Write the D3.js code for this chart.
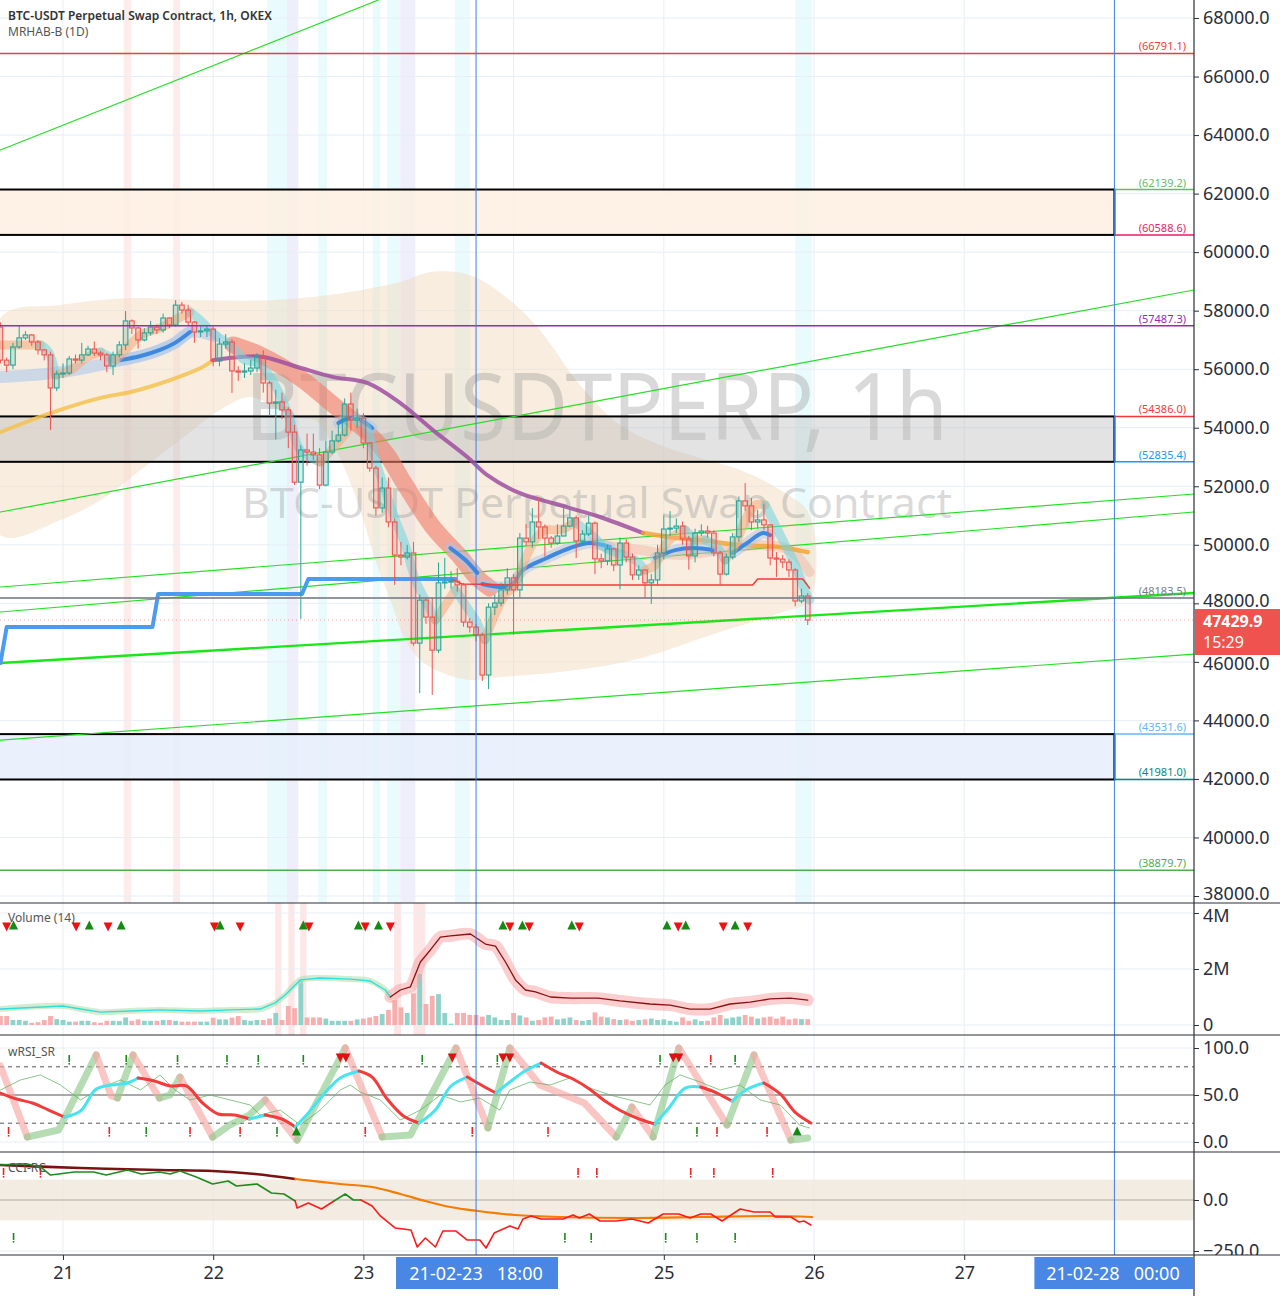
<!DOCTYPE html>
<html><head><meta charset="utf-8">
<script src="https://cdn.jsdelivr.net/npm/d3@7"></script>
<style>body{margin:0;background:#fff;}svg{display:block;font-family:"Noto Sans",sans-serif;}</style>
</head><body>
<svg id="c" width="1280" height="1296"></svg>
<script>
// ---------------- DATA ----------------
const startTime = "2021-02-20T14:00:00Z"; // first hourly candle
const candleOpen = [57440,56310,56140,56760,57070,57170,56930,56660,56490,55360,55840,55870,56350,56310,56490,56690,56550,56490,56110,56490,56830,57650,57410,57000,57240,57440,57340,57750,57510,58190,58020,57610,57270,57310,57370,56280,56860,56930,55940,55900,55940,56040,56450,55530,54840,54880,54610,53850,52140,53240,53170,53070,52040,53170,53550,53750,54810,54260,54330,53480,52620,51260,51940,50780,49650,49580,49720,46640,48110,47530,46400,48700,48730,48760,48630,47360,47190,46920,45550,47870,48010,48460,48870,48460,50230,50100,50780,50610,50230,50060,50300,50640,50920,50130,50370,50740,49520,49450,49860,49310,50060,49580,48970,49140,48700,48800,49720,50540,50570,50640,50200,49620,50400,50470,50400,49720,49000,49580,50270,51500,51330,50780,50850,50680,49550,49510,49410,49140,48080,48250];
const candleHigh = [57600,56400,56900,57470,57300,57200,57000,56700,56600,55950,56200,56450,56500,56900,56800,56950,56620,56560,56600,56960,57990,57700,57460,57400,57650,57520,57900,57770,58360,58300,58200,57650,57450,57500,57450,57060,57200,57020,56100,56200,56320,56550,56650,55600,55300,55200,54700,54100,53400,53800,53800,53300,53550,53900,54100,55000,55200,54650,54500,53500,52700,52300,52300,50900,50100,50000,50100,48300,48200,48200,49400,49550,49100,49200,48700,47500,47300,47000,48000,48300,48700,49200,49000,50400,50700,51250,51600,50700,50300,50700,51400,51200,51000,50500,51000,50800,49700,50000,49900,50250,50200,49700,49300,49150,49000,50000,51000,51150,50900,50800,50300,50550,50700,50650,50500,49800,49700,50400,51650,52110,51600,51200,51400,50700,49750,49650,49500,49200,48500,48350];
const candleLow = [56200,55900,56000,56700,57000,56800,56500,56300,53920,55250,55700,55800,56200,56200,56450,56450,56300,55900,55800,56400,56650,57200,56700,56950,57150,57200,57250,57400,57450,57900,57500,56900,57100,57100,56100,56100,56700,55190,55600,55700,55800,55900,55200,54400,53600,54300,53300,52050,47470,52700,52900,51900,52000,53100,53500,53700,53900,54000,53300,52500,51000,51100,50600,48630,49300,49500,46550,44930,47300,44870,46300,48500,48500,48400,47200,47000,46700,45350,45070,47600,47900,48300,46920,48200,49950,49900,50200,49600,49900,50000,50300,50600,49550,50000,50300,49000,49200,49300,49100,48480,49400,48800,48800,48180,47980,48600,49500,50300,50400,50000,49150,49400,50300,50250,49600,48600,48950,49500,50100,51150,50500,50550,50500,49300,48900,49200,48900,47900,48000,47260];
const candleClose = [56310,56140,56760,57070,57170,56930,56660,56490,55360,55840,55870,56350,56310,56490,56690,56550,56490,56110,56490,56830,57650,57410,57000,57240,57440,57340,57750,57510,58190,58020,57610,57270,57310,57370,56280,56860,56930,55940,55900,55940,56040,56450,55530,54840,54880,54610,53850,52140,53240,53170,53070,52040,53170,53550,53750,54810,54260,54330,53480,52620,51260,51940,50780,49650,49580,49720,46640,48110,47530,46400,48700,48730,48760,48630,47360,47190,46920,45550,47870,48010,48460,48870,48460,50230,50100,50780,50610,50230,50060,50300,50640,50920,50130,50370,50740,49520,49450,49860,49310,50060,49580,48970,49140,48700,48800,49720,50540,50570,50640,50200,49620,50400,50470,50400,49720,49000,49580,50270,51500,51330,50780,50850,50680,49550,49510,49410,49140,48080,48250,47430];
const volumeM = [0.32,0.32,0.18,0.18,0.15,0.08,0.10,0.18,0.32,0.21,0.18,0.12,0.12,0.15,0.15,0.10,0.08,0.15,0.15,0.14,0.27,0.15,0.20,0.15,0.15,0.15,0.18,0.18,0.15,0.12,0.12,0.12,0.12,0.12,0.26,0.20,0.20,0.26,0.32,0.18,0.15,0.18,0.18,0.23,0.43,0.18,0.68,0.60,1.61,0.27,0.27,0.27,0.23,0.15,0.15,0.15,0.15,0.20,0.23,0.27,0.32,0.39,0.54,0.89,0.63,0.43,1.13,1.82,0.75,1.04,1.10,0.43,0.05,0.43,0.43,0.36,0.36,0.30,0.36,0.27,0.18,0.18,0.43,0.34,0.27,0.15,0.18,0.27,0.30,0.20,0.23,0.27,0.18,0.15,0.18,0.45,0.30,0.27,0.21,0.18,0.20,0.15,0.18,0.20,0.23,0.18,0.20,0.15,0.12,0.27,0.15,0.20,0.14,0.15,0.27,0.36,0.23,0.27,0.30,0.36,0.30,0.23,0.27,0.30,0.23,0.30,0.20,0.23,0.21,0.21];

// overlays: [hours since startTime, value]
const slowMaRise = [[0,53850],[8,54500],[16,55020],[20.8,55220],[27.1,55630],[32,56040],[34,56310]];
const slowMaFall = [[34,56310],[38.3,56420],[42,56420],[48,56040],[53.2,55730],[58.6,55530],[63.9,54840],[69.1,53920],[74.6,53000],[77.8,52380],[82.6,51800],[90.5,51290],[95.8,50950],[102.7,50400]];
const slowMaTail = [[102.7,50400],[108.1,50230],[111.8,50160],[118.2,49990],[124.6,49920],[129,49750]];
const redBand = [[37.2,56830],[41.5,56490],[47.9,55700],[53.2,54780],[58.6,53850],[61.8,53070],[63.9,52320],[69.1,50610],[73.5,49580],[76.2,48870],[78.2,48520]];
const redBandFaint = [[95.8,49990],[102.2,49820],[108.6,49650],[115,49820],[121.4,49990],[126.1,49820],[129.3,49070]];
const blueMaBand = [[0,55730],[9.6,55900],[19.2,56300],[22.4,56450],[25.5,56660],[27.9,56900],[30.3,57270],[34.3,57130]];
const blueMaSegments = [
  [[19.2,56310],[22.4,56450],[25.5,56660],[27.9,56900],[30.3,57270]],
  [[54,54160],[55.9,54330],[57.5,54260],[59.4,53990]],
  [[71.9,49890],[74.3,49480],[76.2,49040]],
  [[77,48660],[81.4,48590],[83.5,49140],[87.3,49550],[91,49890],[94.2,50060],[97.4,49920]],
  [[104.6,49550],[107.8,49820],[110.7,49890],[113.9,49820]],
  [[117,49720],[119.3,50060],[121.8,50400],[123,50330]]
];
const fastBand = [[0,56830],[3.2,56830],[6.4,56830],[7.7,56590],[8.8,55800],[11.2,55970],[13.6,56380],[16,56590],[18.4,56310],[20,56660],[22.4,57170],[25.5,57410],[27.9,57680],[30.3,57950],[31.9,57680],[34.3,57170],[36.7,56830],[39.1,56310],[40.7,56250],[42.3,55970],[44.7,55120],[46.3,54260],[47.9,53240],[51.1,52830],[54.3,53580],[56.7,54260],[58.3,54090],[59.9,52900],[61.5,51870],[63.1,50850],[64.7,49990],[66.3,48800],[67.9,48110],[69.5,47430],[71.1,47940],[72.7,48460],[74.3,47940],[75.9,47430],[77.4,46750],[79,47600],[80.6,48280],[82.2,48630],[83.8,49480],[85.4,50160],[87,50510],[88.6,50510],[90.2,50570],[91.8,50780],[93.4,50510],[95,50230],[96.6,49890],[98.2,49750],[99.8,49620],[101.4,49480],[103,49140],[104.6,49310],[106.2,49990],[107.8,50330],[109.4,50510],[111,50160],[112.6,50160],[114.2,49990],[115.8,49480],[117.4,49990],[119,50850],[120.6,51360],[122.2,51360],[123.8,50680],[125.4,49990],[127,49310],[128.5,48460],[129.3,48110]];
const cloudUpper = [[0,57750],[9.6,58190],[20.8,58430],[31.9,58360],[43.1,58360],[52.7,58540],[63.9,58980],[68.7,59320],[75,59220],[81.4,58360],[86.2,57340],[92.6,55460],[99,54090],[105.4,53410],[111.8,52970],[118.2,52560],[124.6,51870],[129.3,51020]];
const cloudLower = [[129.3,48110],[124.6,47670],[114.5,46990],[101.1,46060],[89.4,45650],[79.8,45480],[75,45380],[70.3,45650],[67.1,46060],[64.7,46750],[62.3,48110],[59.9,49480],[57.5,51190],[55.1,52560],[52.7,53580],[50.3,54260],[47.9,54330],[44.7,54610],[39.9,55050],[35.1,54610],[28.7,53580],[22.4,52560],[16,51530],[9.6,50850],[0,50330]];
const dailyStep = [[0,45960],[1,47190],[24.3,47190],[25.2,48320],[48.2,48320],[49.2,48830],[72.7,48830]];
const stopLine = [[72.3,48800],[73.8,48660],[81.9,48630],[120.2,48630],[121,48830],[128.2,48830],[129.3,48520]];
const trendLines = [[[0,63490],[60.4,68615]],[[0,51120],[190.7,58706]],[[0,48558],[190.7,51735]],[[0,47703],[190.7,51120]],[[0,43324],[190.7,46262]]];
const mainTrend = [[0,45960],[190.7,48352]];
const levelValues = [66791.1,62139.2,60588.6,57487.3,54386.0,52835.4,48183.5,43531.6,41981.0,38879.7];
const fullWidthLevels = [66791.1,57487.3,48183.5,38879.7];
const zones = [[62139.2,60588.6],[54386.0,52835.4],[43531.6,41981.0]];
const zoneEnd = "2021-02-28T00:00:00Z";
const lastPrice = 47429.9, lastCountdown = "15:29";
const priceTicks = [38000,40000,42000,44000,46000,48000,50000,52000,54000,56000,58000,60000,62000,64000,66000,68000];
const gridDays = ["2021-02-21","2021-02-22","2021-02-23","2021-02-24","2021-02-25","2021-02-26","2021-02-27"];
const dayLabels = ["2021-02-21","2021-02-22","2021-02-23","2021-02-25","2021-02-26","2021-02-27"];
const markedTimes = [["2021-02-23T18:00:00Z","21-02-23   18:00"],["2021-02-28T00:00:00Z","21-02-28   00:00"]];
const pinkStripes = [[19.7,20.9],[27.6,28.7]];
const cyanStripes = [[42.6,45.8],[50.8,52.2],[59.5,60.7],[61.8,63.9],[72.6,75],[127,129.7]];
const lavenderStripes = [[45.8,47.6],[63.9,66.3]];
const volStripes = [[43.9,44.9],[46,47],[47.9,48.9],[62.9,64],[66,67.9]];
const volMaCalm = [[0,0.57],[10,0.68],[12.8,0.57],[16,0.46],[20.8,0.5],[25.5,0.54],[31.9,0.5],[36.7,0.54],[41.5,0.57],[43.9,0.79],[45.5,1.07],[47.9,1.61],[51.1,1.68],[55.9,1.64],[59.1,1.57],[61.5,1.25],[62.3,1.0]];
const volMaHot = [[62.3,1.0],[63.9,1.25],[65.5,1.36],[67.1,2.25],[68.7,2.68],[70.3,3.14],[71.9,3.18],[75.1,3.25],[77.5,2.89],[79.1,2.82],[80.7,2.25],[82.3,1.61],[83.9,1.25],[85.5,1.18],[87.9,1.0],[91.1,0.96],[95.5,0.96],[99,0.86],[103.8,0.75],[107,0.71],[110.2,0.57],[113.4,0.57],[116.6,0.75],[119.8,0.82],[123,0.93],[126.2,0.96],[129,0.89]];
const volUpSignals = [2.1,14.2,19.3,35.1,48.4,57.2,60.4,80.3,83.4,91.3,106.5,109.5,117.4];
const volDownSignals = [1,12.1,17.2,34.2,38.3,49.3,58.3,62.3,81.4,84.5,92.5,108.3,115.5,119.4];
const rsiSmooth = [[0,52.1],[2.6,45.7],[5.1,41.5],[7.7,34],[10.2,26.6],[12.8,33],[15.3,56.4],[17.7,60.6],[20.3,62.8],[22,68.1],[24.6,64.9],[27.1,59.6],[29.7,59.6],[32.3,41.5],[34.8,29.8],[37.4,28.7],[39.8,24.5],[42.3,28.7],[44.9,24.5],[47.1,16],[49.2,30.9],[51.7,51.1],[54.3,68.1],[57.3,75.5],[59.4,69.1],[61.8,45.7],[64.4,27.7],[66.9,20.2],[69.5,34],[72,59.6],[74.6,69.1],[77.1,59.6],[79.2,52.1],[81.4,63.8],[83.8,75.5],[86.4,84],[88.9,74.5],[91.5,67],[94.1,56.4],[96.6,43.6],[99.2,33],[101.7,25.5],[104.6,19.1],[106.8,36.2],[109.4,57.4],[111.9,58.5],[114.5,52.1],[116.9,43.6],[119.4,56.4],[122,62.8],[124.6,51.1],[127.1,30.9],[129.5,20.2]];
const rsiFast = [[0,80.9],[4.3,5.3],[9.3,12.8],[15.3,92.6],[17.7,48.9],[18.7,46.8],[21.2,92.6],[25.4,46.8],[27.1,50],[28.7,69.1],[33.9,5.3],[36.7,18.1],[39.8,28.7],[42.3,44.7],[47.4,2.1],[55.1,100],[61,5.3],[65.5,7.4],[66.9,25.5],[72.8,100],[77.9,14.9],[81.4,100],[86.2,60.6],[93.3,41.5],[98.4,5.3],[100.9,37.2],[104.3,5.3],[108.4,100],[116.1,18.1],[120.4,92.6],[126.3,2.1],[129,4.3]];
const rsiRaw = [[0,55.3],[3.2,66],[6.4,71.3],[9.6,60.6],[12.8,44.7],[16,57.4],[19.2,66],[22.4,55.3],[25.5,71.3],[27.9,55.3],[30.3,44.7],[33.5,50],[36.7,44.7],[39.9,39.4],[41.5,28.7],[44.7,34],[47.9,18.1],[51.1,34],[54.3,55.3],[55.9,60.6],[57.5,53.2],[60.7,44.7],[63.9,23.4],[67.1,34],[70.3,50],[73.5,42.6],[76.6,46.8],[79.8,34],[81.4,55.3],[84.6,63.8],[87.8,60.6],[91,68.1],[94.2,57.4],[97.4,50],[100.6,44.7],[103.8,39.4],[106.2,60.6],[108.6,71.3],[111.8,63.8],[115,55.3],[118.2,60.6],[121.4,44.7],[124.6,39.4],[127.7,18.1],[129.3,14.9]];
const rsiLevels = [80,50,20];
const rsiTopBull = [11,20.1,28.3,36.2,41.2,48.4,67.4,79.4,105.4,117.4];
const rsiTopBear = [113.5];
const rsiTopBearArrows = [54.3,55.2,72.2,80.3,81.4,107.5,108.4];
const rsiBottomBear = [1.3,17.4,30.3,38.3,58.3,75.4,87.5,114.5,122.5];
const rsiBottomBull = [23.3,44.2,111.3];
const rsiBottomBullArrows = [47.3,127.3];
const cciSlowUp = [[0,171.6],[12.8,156.9],[25.4,147.1],[33.9,142.2],[40.7,127.5],[47.1,102.9]];
const cciSlowDown = [[47.1,102.9],[54.3,78.4],[59.4,63.7],[63.9,29.4],[67.9,-4.9],[71.9,-34.3],[76.3,-53.9],[82.2,-73.5],[89.4,-83.3],[101.7,-88.2],[111.8,-83.3],[123,-78.4],[129.7,-83.3]];
const cciFast = [[0,171.6],[2.6,176.5],[4.3,176.5],[6.4,161.8],[8,122.5],[9.3,127.5],[11.8,137.3],[14.9,137.3],[16.9,122.5],[20.3,147.1],[22.5,127.5],[25.4,137.3],[27.1,127.5],[28.7,142.2],[31.3,112.7],[33.9,78.4],[36.4,93.1],[37.7,68.6],[41,78.4],[43.3,34.3],[45.3,29.4],[47.1,-4.9],[47.4,-39.2],[49.2,-14.7],[51.3,-44.1],[53.3,-4.9],[55.1,29.4],[56.4,0],[57.6,0],[59.4,-29.4],[60.7,-78.4],[63.1,-137.3],[65.6,-147.1],[66.6,-230.4],[67.9,-186.3],[69.5,-230.4],[70.7,-152],[72.8,-152],[74.6,-196.1],[76.6,-196.1],[77.6,-235.3],[78.9,-161.8],[81.4,-127.5],[82.7,-142.2],[83.5,-93.1],[84.8,-78.4],[86.4,-93.1],[89.9,-93.1],[91.5,-73.5],[92.5,-88.2],[94.1,-68.6],[95.8,-102.9],[98.4,-102.9],[100.9,-93.1],[103.5,-112.7],[105.9,-68.6],[108.4,-68.6],[110.2,-88.2],[111.9,-68.6],[113.5,-68.6],[115.3,-102.9],[118.2,-44.1],[120.4,-58.8],[123,-58.8],[123.8,-83.3],[126.3,-83.3],[127.6,-107.8],[128.4,-102.9],[129.5,-122.5]];
const cciBullSpans = [[0,47.1],[53.3,57.6]];
const cciBandLimits = [100,-100];
const cciTopBear = [0.5,6.4,92.3,95.3,110.3,114,123.4];
const cciBottomBull = [2.1,90.2,94.4,106.3,111.3,117.4];

// ---------------- SCALES ----------------
const T0 = Date.parse(startTime);
const tAt = h => new Date(T0 + h*3600e3);
const x = d3.scaleUtc().domain([new Date(Date.UTC(2021,1,21)), new Date(Date.UTC(2021,1,26))]).range([63,814]);
const X = h => x(tAt(h));
const yP = d3.scaleLinear().domain([38000,68000]).range([896,18]);
const yV = d3.scaleLinear().domain([0,4]).range([1025,913]);
const yR = d3.scaleLinear().domain([0,100]).range([1142,1048]);
const yC = d3.scaleLinear().domain([-250,0]).range([1251,1200]);
const AX = 1194;

const svg = d3.select("#c");
const defs = svg.append("defs");
function mkClip(id,x0,y0,w,h){defs.append("clipPath").attr("id",id).append("rect").attr("x",x0).attr("y",y0).attr("width",w).attr("height",h);}
mkClip("cMain",0,0,AX,903);mkClip("cVol",0,903,AX,132);mkClip("cRsi",0,1035,AX,117);mkClip("cCci",0,1152,AX,103);
mkClip("aMain",AX,0,86,903);mkClip("aCci",AX,1152,86,103);

const gMain = svg.append("g").attr("clip-path","url(#cMain)");
const gVol = svg.append("g").attr("clip-path","url(#cVol)");
const gRsi = svg.append("g").attr("clip-path","url(#cRsi)");
const gCci = svg.append("g").attr("clip-path","url(#cCci)");

function runs(pts, colorFn){const out=[];for(let i=1;i<pts.length;i++){const c=colorFn(pts[i-1],pts[i]);if(out.length&&out[out.length-1].color===c)out[out.length-1].pts.push(pts[i]);else out.push({color:c,pts:[pts[i-1],pts[i]]});}return out;}
function drawLine(g,pts,ys,color,w,op,curve){g.append("path").attr("d",d3.line().x(d=>X(d[0])).y(d=>ys(d[1])).curve(curve||d3.curveLinear)(pts)).attr("fill","none").attr("stroke",color).attr("stroke-width",w).attr("stroke-opacity",op==null?1:op).attr("stroke-linejoin","round").attr("stroke-linecap","round");}

// ---------------- stripes & grid ----------------
const gridDates = gridDays.map(d=>new Date(d+"T00:00:00Z"));
const labelDates = dayLabels.map(d=>new Date(d+"T00:00:00Z"));
function stripes(g,list,color,y0,y1){list.forEach(s=>g.append("rect").attr("x",X(s[0])).attr("y",y0).attr("width",X(s[1])-X(s[0])).attr("height",y1-y0).attr("fill",color));}
stripes(gMain,pinkStripes,"#fdecec",0,903);
stripes(gMain,cyanStripes,"#e9fbfd",0,903);
stripes(gMain,lavenderStripes,"#efeffc",0,903);
stripes(gVol,volStripes,"#fde6e6",903,1035);

const gridC="#e7eef5";
[gMain,gVol,gRsi,gCci].forEach((g,k)=>{const yr=[[0,903],[903,1035],[1035,1152],[1152,1255]][k];gridDates.forEach(d=>g.append("line").attr("x1",x(d)).attr("x2",x(d)).attr("y1",yr[0]).attr("y2",yr[1]).attr("stroke",gridC));});
priceTicks.forEach(p=>gMain.append("line").attr("x1",0).attr("x2",AX).attr("y1",yP(p)).attr("y2",yP(p)).attr("stroke",gridC));
[0,2,4].forEach(v=>gVol.append("line").attr("x1",0).attr("x2",AX).attr("y1",yV(v)).attr("y2",yV(v)).attr("stroke",gridC));
[0,100].forEach(v=>gRsi.append("line").attr("x1",0).attr("x2",AX).attr("y1",yR(v)).attr("y2",yR(v)).attr("stroke",gridC));
gCci.append("line").attr("x1",0).attr("x2",AX).attr("y1",yC(-250)).attr("y2",yC(-250)).attr("stroke",gridC);

// ---------------- main overlays ----------------
const cloudPts = cloudUpper.concat(cloudLower);
gMain.append("path").attr("d",d3.line().x(d=>X(d[0])).y(d=>yP(d[1])).curve(d3.curveCatmullRomClosed)(cloudPts)).attr("fill","#f2dcc0").attr("fill-opacity",0.5);

// watermark
gMain.append("text").attr("x",245).attr("y",440).attr("textLength",703).attr("lengthAdjust","spacingAndGlyphs").attr("font-size",94).attr("fill","#8a8a8a").attr("fill-opacity",0.32).text("BTCUSDTPERP, 1h");
gMain.append("text").attr("x",242).attr("y",518).attr("textLength",710).attr("lengthAdjust","spacingAndGlyphs").attr("font-size",42).attr("fill","#8a8a8a").attr("fill-opacity",0.32).text("BTC-USDT Perpetual Swap Contract");

// zones
const zEnd = x(new Date(zoneEnd));
const zoneFill = ["#fdf0e1","#bdbdbd","#e6effc"], zoneOp=[0.85,0.42,0.85];
zones.forEach((z,k)=>{gMain.append("rect").attr("x",-5).attr("y",yP(z[0])).attr("width",zEnd+5).attr("height",yP(z[1])-yP(z[0])).attr("fill",zoneFill[k]).attr("fill-opacity",zoneOp[k]).attr("stroke","#000").attr("stroke-width",2);});

// levels
const levelColors = ["#f23a3a","#66bb6a","#e91e63","#9c27b0","#f23a3a","#2196f3","#787b86","#64b5f6","#00897b","#4caf50"];
levelValues.forEach((v,k)=>{const full = fullWidthLevels.includes(v);
  svg.append("line").attr("x1",full?0:zEnd).attr("x2",AX).attr("y1",yP(v)).attr("y2",yP(v)).attr("stroke",levelColors[k]).attr("stroke-width",v===48183.5?2:1.5).attr("stroke-opacity",v===48183.5?0.8:1);
  svg.append("text").attr("x",1186).attr("y",yP(v)-3).attr("text-anchor","end").attr("font-size",11).attr("fill",levelColors[k]).text("("+v.toFixed(1)+")");
});

// trend lines
trendLines.forEach(t=>drawLine(gMain,t,yP,"#22e022",1.2,1));
drawLine(gMain,mainTrend,yP,"#18e818",2.4,1);

// red band
drawLine(gMain,redBand,yP,"#f07a68",17,0.6,d3.curveCatmullRom);
drawLine(gMain,redBandFaint,yP,"#f4a090",10,0.35,d3.curveCatmullRom);
// slow MA
drawLine(gMain,slowMaRise,yP,"#f5c250",4,0.85,d3.curveCatmullRom);
drawLine(gMain,slowMaFall,yP,"#9d4f9f",4,0.85,d3.curveCatmullRom);
drawLine(gMain,slowMaTail,yP,"#f5a030",4.5,0.8,d3.curveCatmullRom);
// blue MA
drawLine(gMain,blueMaBand,yP,"#a9c6ec",12,0.55,d3.curveCatmullRom);
blueMaSegments.forEach(s=>{drawLine(gMain,s,yP,"#a9c6ec",11,0.5,d3.curveCatmullRom);drawLine(gMain,s,yP,"#3f88e0",4,1,d3.curveCatmullRom);});
// fast band
runs(fastBand,(a,b)=>b[1]<a[1]?"#6fd3e0":"#f5a878").forEach(r=>drawLine(gMain,r.pts,yP,r.color,9,0.55,d3.curveCatmullRom));
// daily step + stop line
drawLine(gMain,dailyStep,yP,"#4a9cf0",4,1);
drawLine(gMain,stopLine,yP,"#f23a3a",1.5,1);

// candles
const cw=2.3;
candleClose.forEach((c,i)=>{const o=candleOpen[i],up=c>=o,col=up?"#26a69a":"#ef5350",cx=X(i);
  gMain.append("line").attr("x1",cx).attr("x2",cx).attr("y1",yP(candleHigh[i])).attr("y2",yP(Math.max(o,c))).attr("stroke",col);
  gMain.append("line").attr("x1",cx).attr("x2",cx).attr("y1",yP(Math.min(o,c))).attr("y2",yP(candleLow[i])).attr("stroke",col);
  const y0=yP(Math.max(o,c)), h=Math.max(1,yP(Math.min(o,c))-y0);
  gMain.append("rect").attr("x",cx-cw).attr("y",y0).attr("width",cw*2).attr("height",h).attr("fill",col).attr("fill-opacity",0.18).attr("stroke",col).attr("stroke-width",1.1);
});
// current price dotted
gMain.append("line").attr("x1",0).attr("x2",AX).attr("y1",yP(lastPrice)).attr("y2",yP(lastPrice)).attr("stroke","#ef5350").attr("stroke-opacity",0.5).attr("stroke-dasharray","1,3");

// titles
svg.append("text").attr("x",8).attr("y",20).attr("font-size",12).attr("fill","#333").attr("font-weight",600).text("BTC-USDT Perpetual Swap Contract, 1h, OKEX");
svg.append("text").attr("x",8).attr("y",36).attr("font-size",12).attr("fill","#555").text("MRHAB-B (1D)");

// ---------------- volume ----------------
volumeM.forEach((v,i)=>{const up=candleClose[i]>=candleOpen[i];gVol.append("rect").attr("x",X(i)-2.4).attr("y",yV(v)).attr("width",4.8).attr("height",yV(0)-yV(v)).attr("fill",up?"#8fd2c9":"#f7aeae");});
drawLine(gVol,volMaCalm,yV,"#b6dfb0",6,0.6,d3.curveCatmullRom);
drawLine(gVol,volMaHot,yV,"#f7a0a0",12,0.5,d3.curveCatmullRom);
drawLine(gVol,volMaCalm,yV,"#2ee0dc",1.4,1);
drawLine(gVol,volMaHot,yV,"#8b1010",1.3,1);
function triUp(g,cx,cy,col){g.append("path").attr("d",`M${cx-4.5},${cy+4.5}L${cx+4.5},${cy+4.5}L${cx},${cy-4.5}Z`).attr("fill",col);}
function triDown(g,cx,cy,col){g.append("path").attr("d",`M${cx-4.5},${cy-4.5}L${cx+4.5},${cy-4.5}L${cx},${cy+4.5}Z`).attr("fill",col);}
volDownSignals.forEach(h=>triDown(gVol,X(h),927,"#ee1111"));
volUpSignals.forEach(h=>triUp(gVol,X(h),925,"#138a13"));
svg.append("text").attr("x",8).attr("y",922).attr("font-size",12).attr("fill","#555").text("Volume (14)");

// ---------------- RSI ----------------
rsiLevels.forEach(v=>gRsi.append("line").attr("x1",0).attr("x2",AX).attr("y1",yR(v)).attr("y2",yR(v)).attr("stroke","#555").attr("stroke-dasharray",v===50?null:"4,4"));
runs(rsiFast,(a,b)=>b[1]>a[1]?"#8fca8c":"#f6a7a4").forEach(r=>drawLine(gRsi,r.pts,yR,r.color,7,0.65));
drawLine(gRsi,rsiRaw,yR,"#5cae5c",0.9,0.8);
runs(rsiSmooth,(a,b)=>b[1]>a[1]?"#45e4ef":"#f23b3b").forEach(r=>drawLine(gRsi,r.pts,yR,r.color,3,1,d3.curveCatmullRom));
function tick(g,cx,y0,col){g.append("rect").attr("x",cx-0.8).attr("y",y0).attr("width",1.6).attr("height",7).attr("fill",col);g.append("rect").attr("x",cx-0.8).attr("y",y0+8).attr("width",1.6).attr("height",1.6).attr("fill",col);}
rsiTopBull.forEach(h=>tick(gRsi,X(h),1055,"#1b8a1b"));
rsiTopBear.forEach(h=>tick(gRsi,X(h),1055,"#ee2222"));
rsiTopBearArrows.forEach(h=>triDown(gRsi,X(h),1058,"#dd1111"));
rsiBottomBear.forEach(h=>tick(gRsi,X(h),1127,"#ee2222"));
rsiBottomBull.forEach(h=>tick(gRsi,X(h),1127,"#1b8a1b"));
rsiBottomBullArrows.forEach(h=>triUp(gRsi,X(h),1131,"#138a13"));
svg.append("text").attr("x",8).attr("y",1056).attr("font-size",12).attr("fill","#555").text("wRSI_SR");

// ---------------- CCI ----------------
gCci.append("rect").attr("x",0).attr("width",AX).attr("y",yC(cciBandLimits[0])).attr("height",yC(cciBandLimits[1])-yC(cciBandLimits[0])).attr("fill","#efe5d8").attr("fill-opacity",0.75);
gCci.append("line").attr("x1",0).attr("x2",AX).attr("y1",yC(0)).attr("y2",yC(0)).attr("stroke","#b0aaa5");
drawLine(gCci,cciSlowUp,yC,"#7a1212",2.6,1,d3.curveCatmullRom);
drawLine(gCci,cciSlowDown,yC,"#f57c00",2.2,1,d3.curveCatmullRom);
const inBull=h=>cciBullSpans.some(s=>h>=s[0]&&h<s[1]);
runs(cciFast,(a,b)=>inBull(a[0])?"#1f8a1f":"#ff1a1a").forEach(r=>drawLine(gCci,r.pts,yC,r.color,1.6,1));
cciTopBear.forEach(h=>tick(gCci,X(h),1168,"#ee2222"));
cciBottomBull.forEach(h=>tick(gCci,X(h),1233,"#1b8a1b"));
svg.append("text").attr("x",8).attr("y",1172).attr("font-size",12).attr("fill","#555").text("CCI-RC");

// ---------------- vertical marker lines ----------------
markedTimes.forEach(m=>svg.append("line").attr("x1",x(new Date(m[0]))).attr("x2",x(new Date(m[0]))).attr("y1",0).attr("y2",1255).attr("stroke","#3d7ee6").attr("stroke-width",1));

// ---------------- separators & axes ----------------
[903,1035,1152,1255].forEach(y=>svg.append("line").attr("x1",0).attr("x2",1280).attr("y1",y).attr("y2",y).attr("stroke","#2a2e39").attr("stroke-width",1.2));
svg.append("line").attr("x1",AX).attr("x2",AX).attr("y1",0).attr("y2",1296).attr("stroke","#2a2e39").attr("stroke-width",1.2);

function styleAxis(g){g.select(".domain").remove();g.selectAll("text").attr("font-size",18).attr("fill","#2a2e39").attr("font-family","Noto Sans, sans-serif");g.selectAll("line").attr("stroke","#2a2e39");}
const axMain = svg.append("g").attr("clip-path","url(#aMain)").append("g").attr("transform",`translate(${AX},0)`).call(d3.axisRight(yP).tickValues(priceTicks).tickFormat(d3.format(".1f")).tickSize(5).tickPadding(4));
styleAxis(axMain);
axMain.selectAll(".tick").filter(d=>d===38000).select("text").attr("dy","0.2em");
axMain.selectAll(".tick").filter(d=>d===48000).select("text").attr("dy","0.2em");
axMain.selectAll(".tick").filter(d=>d===46000).select("text").attr("dy","0.45em");
const axVol = svg.append("g").attr("transform",`translate(${AX},0)`).call(d3.axisRight(yV).tickValues([0,2,4]).tickFormat(d=>d===0?"0":d+"M").tickSize(5).tickPadding(4));
styleAxis(axVol);
axVol.selectAll(".tick").filter(d=>d===4).select("text").attr("dy","0.45em");
const axRsi = svg.append("g").attr("transform",`translate(${AX},0)`).call(d3.axisRight(yR).tickValues([0,50,100]).tickFormat(d3.format(".1f")).tickSize(5).tickPadding(4));
styleAxis(axRsi);
const axCci = svg.append("g").attr("clip-path","url(#aCci)").append("g").attr("transform",`translate(${AX},0)`).call(d3.axisRight(yC).tickValues([-250,0]).tickFormat(d3.format(".1f")).tickSize(5).tickPadding(4));
styleAxis(axCci);
const axTime = svg.append("g").attr("transform","translate(0,1255)").call(d3.axisBottom(x).tickValues(labelDates).tickFormat(d3.utcFormat("%-d")).tickSize(5).tickPadding(5));
styleAxis(axTime);
axTime.selectAll("text").attr("dy","0.8em");

// price label box
const py = yP(lastPrice);
svg.append("rect").attr("x",1195).attr("y",py-11).attr("width",85).attr("height",46).attr("fill","#ef5350");
svg.append("text").attr("x",1203).attr("y",py+7).attr("font-size",16).attr("font-weight",700).attr("fill","#fff").text(lastPrice.toFixed(1));
svg.append("text").attr("x",1203).attr("y",py+28).attr("font-size",16).attr("fill","#fff").text(lastCountdown);

// marked time boxes
markedTimes.forEach(m=>{const cx=x(new Date(m[0]));
  svg.append("rect").attr("x",cx-80).attr("y",1257).attr("width",Math.min(162,AX-(cx-80))).attr("height",32).attr("fill","#4a86e3");
  svg.append("text").attr("x",Math.min(cx,AX-81)).attr("y",1280).attr("text-anchor","middle").attr("font-size",18).attr("fill","#fff").attr("xml:space","preserve").style("white-space","pre").text(m[1]);
});
</script>
</body></html>
